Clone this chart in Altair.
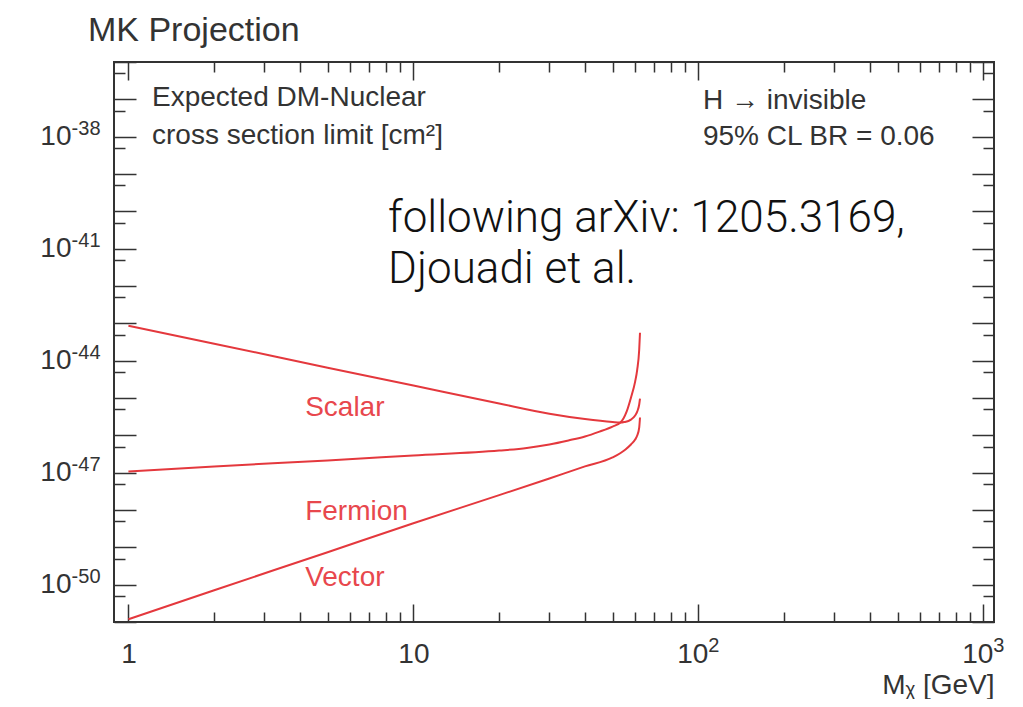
import altair as alt
import pandas as pd

# ---------------- data ----------------
M_scalar = [1, 2, 5, 10, 20, 30, 40, 50, 53, 55, 58, 60, 61, 62, 62.4]
S_scalar = [8.6e-44, 2.85e-44, 6.5e-45, 2.15e-45, 7.1e-46, 3.8e-46, 2.73e-46,
            2.27e-46, 2.2e-46, 2.27e-46, 2.64e-46, 3.4e-46, 4.3e-46, 6.7e-46, 9.6e-46]

M_fermion = [1, 2, 5, 10, 20, 25, 30, 35, 40, 45, 50, 53.3, 56, 58, 60, 61, 62, 62.4]
S_fermion = [1.08e-47, 1.47e-47, 2.12e-47, 2.88e-47, 3.9e-47, 4.6e-47, 5.7e-47,
             7.3e-47, 9.3e-47, 1.26e-46, 1.72e-46, 2.2e-46, 4.3e-46, 1.02e-45,
             2.75e-45, 5.7e-45, 1.96e-44, 5.6e-44]

M_vector = [1, 2, 5, 10, 20, 30, 40, 50, 55.5, 58, 60, 61, 62, 62.4]
S_vector = [1.19e-51, 7.1e-51, 7.4e-50, 4.4e-49, 2.5e-48, 7.0e-48, 1.47e-47,
            2.55e-47, 4.2e-47, 5.7e-47, 7.7e-47, 9.9e-47, 1.62e-46, 3.0e-46]

# tick labels: mantissa part and exponent part
x_lab_plain_vals = [1, 10]
x_lab_plain_text = ["1", "10"]
x_lab_pow_vals = [100, 1000]
x_lab_pow_base = ["10", "10"]
x_lab_pow_exp = ["2", "3"]
y_label_vals = [1e-50, 1e-47, 1e-44, 1e-41, 1e-38]
y_label_base = ["10", "10", "10", "10", "10"]
y_label_exp = ["-50", "-47", "-44", "-41", "-38"]

x_major = [1, 10, 100, 1000]
x_minor = [2, 3, 4, 5, 6, 7, 8, 9, 20, 30, 40, 50, 60, 70, 80, 90,
           200, 300, 400, 500, 600, 700, 800, 900]
y_major = [10.0 ** k for k in range(-51, -35)]
y_minor = [5 * 10.0 ** k for k in range(-52, -36)]

curve_label_text = ["Scalar", "Fermion", "Vector"]
curve_label_M = [4.17, 4.17, 4.17]
curve_label_S = [5.4e-46, 8.8e-49, 1.51e-50]

info_text = ["Expected DM-Nuclear", "cross section limit [cm²]",
             "H → invisible", "95% CL BR = 0.06"]
info_M = [1.21, 1.21, 103.8, 103.8]
info_S = [1.09e-37, 1.04e-38, 9.0e-38, 9.8e-39]

note_text = ["following arXiv: 1205.3169,", "Djouadi et al."]
note_M = [8.15, 8.15]
note_S = [6.2e-41, 2.68e-42]

# ---------------- tables ----------------
df = pd.concat([
    pd.DataFrame({"M": M_scalar, "sigma": S_scalar, "series": "Scalar"}),
    pd.DataFrame({"M": M_fermion, "sigma": S_fermion, "series": "Fermion"}),
    pd.DataFrame({"M": M_vector, "sigma": S_vector, "series": "Vector"}),
], ignore_index=True)
df_curve_lab = pd.DataFrame({"M": curve_label_M, "sigma": curve_label_S, "t": curve_label_text})
df_info = pd.DataFrame({"M": info_M, "sigma": info_S, "t": info_text})
df_note = pd.DataFrame({"M": note_M, "sigma": note_S, "t": note_text})

# ---------------- styling ----------------
FONT = "Liberation Sans, Arial, Helvetica, DejaVu Sans, sans-serif"
RED = "#e4383d"
INK = "#333333"
W, H = 880, 560
TICK_FS, SUP_FS = 28, 20

xscale = alt.Scale(type="log", domain=[0.89, 1090], nice=False)
yscale = alt.Scale(type="log", domain=[1e-51, 1e-36], nice=False)


def label_expr(vals, texts):
    expr = "'" + texts[-1] + "'"
    for v, t in reversed(list(zip(vals[:-1], texts[:-1]))):
        expr = "datum.value < %r ? '%s' : %s" % (v * 3, t, expr)
    return expr


def label_axis(orient, vals, texts, size, padding, offset=0, align="center", **kw):
    return alt.Axis(orient=orient, values=vals, labelExpr=label_expr(vals, texts),
                    ticks=False, domain=False, grid=False, labelFont=FONT,
                    labelFontSize=size, labelColor=INK, labelPadding=padding,
                    labelOffset=offset, labelAlign=align, labelFlush=False,
                    labelOverlap=False, **kw)


def tick_axis(orient, offset, values, size):
    return alt.Axis(orient=orient, offset=offset, values=values, tickSize=size,
                    labels=False, domain=False, grid=False, title="",
                    tickColor=INK, tickWidth=1.5)


def axis_layer(xaxis, yaxis):
    return alt.Chart(df).mark_point(opacity=0).encode(
        x=alt.X("M:Q", scale=xscale, axis=xaxis),
        y=alt.Y("sigma:Q", scale=yscale, axis=yaxis),
    )


# inward ticks on all four sides
t_bl_major = axis_layer(tick_axis("top", -H, x_major, 18), tick_axis("right", -W, y_major, 22))
t_bl_minor = axis_layer(tick_axis("top", -H, x_minor, 10), tick_axis("right", -W, y_minor, 11))
t_tr_major = axis_layer(tick_axis("bottom", -H, x_major, 18), tick_axis("left", -W, y_major, 22))
t_tr_minor = axis_layer(tick_axis("bottom", -H, x_minor, 10), tick_axis("left", -W, y_minor, 11))

# tick labels (mantissa + raised exponent)
lab1 = axis_layer(
    label_axis("bottom", x_lab_plain_vals, x_lab_plain_text, TICK_FS, 18,
               title="Mᵪ [GeV]", titleFont=FONT, titleFontSize=28, titleFontWeight="normal",
               titleColor=INK, titleAnchor="end", titleAlign="right", titleX=W, titleY=71,
               titleBaseline="alphabetic"),
    label_axis("left", y_label_vals, y_label_base, TICK_FS, 43, align="right", title=""))
lab2 = axis_layer(
    label_axis("bottom", x_lab_pow_vals, x_lab_pow_base, TICK_FS, 18, offset=-6, title=""),
    label_axis("left", y_label_vals, y_label_exp, SUP_FS, 14, offset=-8, align="right", title=""))
lab3 = axis_layer(
    label_axis("bottom", x_lab_pow_vals, x_lab_pow_exp, SUP_FS, 13, offset=15, title=""),
    None)

lines = alt.Chart(df).mark_line(color=RED, strokeWidth=2, interpolate="monotone").encode(
    x=alt.X("M:Q", scale=xscale, axis=None),
    y=alt.Y("sigma:Q", scale=yscale, axis=None),
    detail="series:N",
)


def text_layer(data, size, color, weight="normal", font=FONT):
    return alt.Chart(data).mark_text(align="left", baseline="middle", fontSize=size,
                                     color=color, font=font, fontWeight=weight).encode(
        x=alt.X("M:Q", scale=xscale, axis=None),
        y=alt.Y("sigma:Q", scale=yscale, axis=None),
        text="t:N",
    )


curve_labels = text_layer(df_curve_lab, 28, "#e8474d")
info = text_layer(df_info, 28, INK)
note = text_layer(df_note, 44, "#111111", weight=300,
                  font="Roboto, Helvetica Neue, Liberation Sans, sans-serif")

chart = alt.layer(
    t_bl_major, t_bl_minor, t_tr_major, t_tr_minor, lab1, lab2, lab3,
    lines, curve_labels, info, note
).resolve_axis(x="independent", y="independent").properties(
    width=W, height=H,
    title=alt.TitleParams("MK Projection", anchor="start", dx=-26, font=FONT, fontSize=34,
                          fontWeight="normal", color=INK, offset=13, frame="group"),
    autosize=alt.AutoSizeParams(type="none"),
    padding={"left": 106, "top": 54, "right": 21, "bottom": 77},
).configure_view(stroke=INK, strokeWidth=2)

chart.save("out.html", embed_options={"renderer": "svg", "actions": False})
